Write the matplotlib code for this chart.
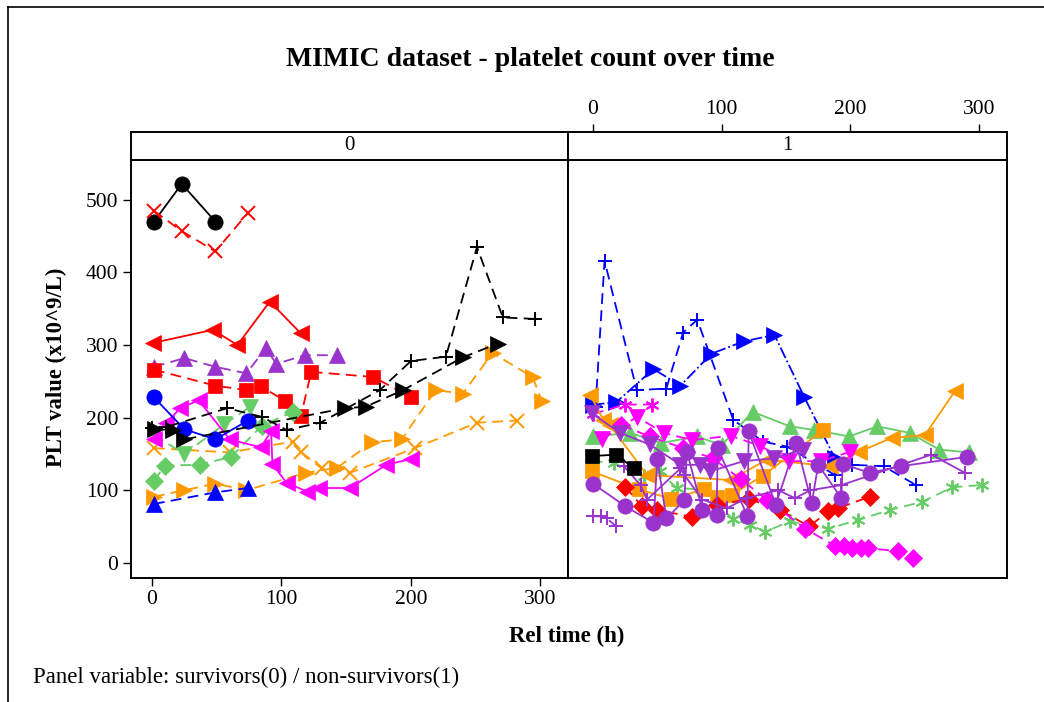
import matplotlib
matplotlib.use('Agg')
import matplotlib.pyplot as plt
from matplotlib.lines import Line2D

plt.rcParams['font.family'] = ['Liberation Serif', 'DejaVu Serif']

# ---- panel 0 : survivors ----
l_black_circle_t = [1.5, 23, 49]
l_black_circle_v = [470, 522, 470]
l_red_x_t = [1.5, 23, 49, 74]
l_red_x_v = [485, 457, 429, 482]
l_red_ltri_t = [1, 47, 66, 91, 115]
l_red_ltri_v = [303, 321, 300, 360, 316]
l_purple_tri_t = [1.5, 25, 49, 73, 88, 96, 118, 143]
l_purple_tri_v = [270, 282, 270, 261, 296, 274, 286, 286]
l_red_sq_t = [1.5, 49, 73, 84, 103, 115, 123, 171, 200]
l_red_sq_v = [266, 244, 238, 243, 223, 202, 263, 256, 228]
l_blue_circle_t = [1.5, 25, 49, 74]
l_blue_circle_v = [228, 184, 170, 196]
l_black_plus_t = [0, 11, 58, 85, 104, 130, 176, 200, 227, 251, 271, 296]
l_black_plus_v = [186, 187, 213, 201, 183, 193, 238, 278, 284, 435, 338, 336]
l_black_rtri_t = [2, 16, 25, 149, 165, 194, 240, 267]
l_black_rtri_v = [184, 183, 170, 213, 215, 238, 283, 302]
l_green_dtri_t = [1.5, 25, 56, 76]
l_green_dtri_v = [176, 150, 191, 215]
l_green_dia_t = [1.5, 10, 37, 61, 85, 109]
l_green_dia_v = [113, 134, 135, 146, 189, 208]
l_mag_ltri_t = [1.5, 11, 22, 36, 60, 84, 92, 93, 104, 120, 129, 153, 181, 200]
l_mag_ltri_v = [170, 193, 213, 224, 170, 159, 181, 136, 110, 98, 103, 103, 135, 143]
l_orange_x_t = [1.5, 60, 109, 115, 131, 153, 203, 251, 282]
l_orange_x_v = [158, 152, 167, 153, 130, 124, 158, 193, 196]
l_orange_rtri_t = [1.5, 25, 49, 73, 119, 143, 170, 193, 219, 240, 263, 294, 301]
l_orange_rtri_v = [91, 100, 109, 100, 124, 131, 166, 170, 238, 233, 289, 256, 223]
l_blue_tri_t = [1.5, 49, 74]
l_blue_tri_v = [81, 97, 103]

# ---- panel 1 : non-survivors ----
r_blue_plus_t = [2, 9, 34, 57, 70, 81, 109, 132, 151, 188, 201, 226, 251]
r_blue_plus_v = [215, 416, 238, 240, 317, 335, 197, 167, 160, 121, 135, 133, 107]
r_blue_rtri_t = [0, 18, 47, 68, 92, 117, 141, 164, 188]
r_blue_rtri_v = [218, 221, 267, 244, 288, 305, 314, 229, 144]
r_mag_ast_t = [0, 25, 46]
r_mag_ast_v = [205, 218, 218]
r_green_tri_t = [0, 29, 53, 81, 100, 124, 153, 172, 199, 221, 246, 269, 292]
r_green_tri_v = [174, 179, 165, 174, 162, 208, 188, 183, 174, 188, 179, 156, 152]
r_orange_ltri_t = [-2, 8, 13, 42, 107, 135, 184, 207, 232, 258, 281]
r_orange_ltri_v = [231, 197, 190, 121, 114, 142, 133, 153, 172, 176, 236]
r_orange_sq_t = [-1, 36, 61, 86, 96, 108, 132, 179]
r_orange_sq_v = [126, 101, 88, 101, 91, 94, 120, 183]
r_black_sq_t = [-1, 18, 32]
r_black_sq_v = [147, 149, 130]
r_red_dia_t = [25, 38, 50, 77, 96, 121, 145, 168, 183, 190, 215]
r_red_dia_v = [105, 78, 73, 63, 79, 88, 73, 50, 71, 75, 91]
r_mag_dia_t = [22, 44, 70, 93, 115, 135, 165, 188, 195, 201, 208, 214, 237, 249]
r_mag_dia_v = [190, 174, 158, 144, 115, 87, 47, 23, 23, 20, 20, 20, 16, 6]
r_mag_dtri_t = [7, 34, 55, 77, 107, 130, 152, 177, 200]
r_mag_dtri_v = [170, 201, 179, 169, 175, 161, 140, 140, 153]
r_purple_circle_t = [0, 25, 47, 50, 57, 71, 73, 85, 96, 97, 120, 121, 142, 158, 170, 175, 193, 194, 215, 239, 291]
r_purple_circle_v = [109, 78, 55, 143, 61, 86, 153, 73, 66, 158, 64, 181, 80, 165, 82, 135, 89, 136, 124, 133, 146]
r_purple_dtri_t = [-1, 21, 44, 68, 83, 91, 117, 141, 163]
r_purple_dtri_v = [206, 179, 163, 135, 135, 126, 140, 144, 156]
r_purple_plus1_t = [0, 6, 11, 18]
r_purple_plus1_v = [64, 64, 61, 50]
r_purple_plus2_t = [24, 37, 42, 68, 71, 85, 104, 119, 144, 157, 169, 193, 263, 289]
r_purple_plus2_v = [133, 107, 87, 130, 121, 87, 75, 89, 100, 89, 100, 107, 149, 124]
r_green_ast_t = [-1, 16, 40, 52, 65, 84, 109, 122, 134, 153, 183, 206, 231, 256, 279, 302]
r_green_ast_v = [140, 138, 119, 126, 103, 101, 60, 52, 43, 57, 47, 59, 73, 84, 104, 107]

y_ticks = [0, 100, 200, 300, 400, 500]
x_ticks = [0, 100, 200, 300]
panel_names = ['0', '1']

BLUE, RED, BLACK = '#0000FF', '#FF0000', '#000000'
PURPLE, GREEN, ORANGE, MAGENTA = '#9933CC', '#66CC66', '#FF9900', '#FF00FF'
AST = (6, 2, 0)

left_series = [
    (l_black_circle_t, l_black_circle_v, BLACK, 'o', '-'),
    (l_red_x_t, l_red_x_v, RED, 'x', '--'),
    (l_red_ltri_t, l_red_ltri_v, RED, '<', '-'),
    (l_purple_tri_t, l_purple_tri_v, PURPLE, '^', '--'),
    (l_red_sq_t, l_red_sq_v, RED, 's', '--'),
    (l_orange_x_t, l_orange_x_v, ORANGE, 'x', '--'),
    (l_orange_rtri_t, l_orange_rtri_v, ORANGE, '>', '--'),
    (l_green_dia_t, l_green_dia_v, GREEN, 'D', '--'),
    (l_green_dtri_t, l_green_dtri_v, GREEN, 'v', '--'),
    (l_blue_tri_t, l_blue_tri_v, BLUE, '^', '--'),
    (l_mag_ltri_t, l_mag_ltri_v, MAGENTA, '<', '-'),
    (l_blue_circle_t, l_blue_circle_v, BLUE, 'o', '-'),
    (l_black_plus_t, l_black_plus_v, BLACK, '+', '--'),
    (l_black_rtri_t, l_black_rtri_v, BLACK, '>', '--'),
]
right_series = [
    (r_blue_plus_t, r_blue_plus_v, BLUE, '+', '--'),
    (r_blue_rtri_t, r_blue_rtri_v, BLUE, '>', '-.'),
    (r_mag_ast_t, r_mag_ast_v, MAGENTA, AST, '--'),
    (r_green_tri_t, r_green_tri_v, GREEN, '^', '-'),
    (r_green_ast_t, r_green_ast_v, GREEN, AST, '--'),
    (r_orange_ltri_t, r_orange_ltri_v, ORANGE, '<', '-'),
    (r_orange_sq_t, r_orange_sq_v, ORANGE, 's', '-'),
    (r_red_dia_t, r_red_dia_v, RED, 'D', '--'),
    (r_mag_dia_t, r_mag_dia_v, MAGENTA, 'D', '--'),
    (r_mag_dtri_t, r_mag_dtri_v, MAGENTA, 'v', '--'),
    (r_purple_plus1_t, r_purple_plus1_v, PURPLE, '+', '--'),
    (r_purple_plus2_t, r_purple_plus2_v, PURPLE, '+', '-'),
    (r_purple_dtri_t, r_purple_dtri_v, PURPLE, 'v', '-'),
    (r_purple_circle_t, r_purple_circle_v, PURPLE, 'o', '-'),
    (r_black_sq_t, r_black_sq_v, BLACK, 's', '-'),
]


def draw(ax, series):
    for t, v, c, m, ls in series:
        thin = m in ('+', 'x', AST)
        if thin:
            ms = 10
        elif m == 'D':
            ms = 9
        elif m == 's':
            ms = 10
        else:
            ms = 11
        line, = ax.plot(t, v, color=c, marker=m, linestyle=ls, linewidth=1.3,
                        markersize=ms, markeredgewidth=1.4 if thin else 0.5)
        if ls == '--':
            line.set_dashes((6, 3.5))


def main():
    fig = plt.figure(figsize=(10.44, 7.02), dpi=100)
    W, H = 1044.0, 702.0

    def box(x0, y0, x1, y1):
        return [x0 / W, 1 - y1 / H, (x1 - x0) / W, (y1 - y0) / H]

    ax0 = fig.add_axes(box(131, 160, 568, 578))
    ax1 = fig.add_axes(box(568, 160, 1007, 578))
    h0 = fig.add_axes(box(131, 132, 568, 160))
    h1 = fig.add_axes(box(568, 132, 1007, 160))

    draw(ax0, left_series)
    draw(ax1, right_series)

    for ax in (ax0, ax1):
        ax.set_ylim(-21, 555)
        for s in ax.spines.values():
            s.set_linewidth(1.4)
    ax0.set_xlim(-16.2, 321.3)
    ax1.set_xlim(-19.4, 321.7)

    ax0.set_yticks(y_ticks)
    ax0.set_xticks(x_ticks)
    ax0.tick_params(direction='out', length=6, width=1, labelsize=15.5, pad=3)
    ax1.set_yticks([])
    ax1.set_xticks([])

    for h, name, ax in ((h0, panel_names[0], ax0), (h1, panel_names[1], ax1)):
        h.set_xlim(ax.get_xlim())
        h.set_ylim(0, 1)
        h.set_yticks([])
        h.set_xticks([])
        for s in h.spines.values():
            s.set_linewidth(1.4)
        h.text(0.5, 0.5, name, transform=h.transAxes, ha='center', va='center', fontsize=15)

    h1.xaxis.tick_top()
    h1.set_xticks(x_ticks)
    h1.tick_params(direction='out', length=6, width=1, labelsize=15.5, pad=3)

    fig.text(530 / W, 1 - 59 / H, 'MIMIC dataset - platelet count over time',
             ha='center', va='center', fontsize=20, fontweight='bold')
    fig.text(567 / W, 1 - 636 / H, 'Rel time (h)', ha='center', va='center',
             fontsize=16.5, fontweight='bold')
    fig.text(56 / W, 1 - 367 / H, 'PLT value (x10^9/L)', ha='center', va='center',
             rotation=90, fontsize=16.3, fontweight='bold')
    fig.text(33 / W, 1 - 677 / H, 'Panel variable: survivors(0) / non-survivors(1)',
             ha='left', va='center', fontsize=16.5)

    # outer frame
    fig.add_artist(Line2D([8 / W, 8 / W], [0, 1 - 7 / H], color='black', linewidth=1.2))
    fig.add_artist(Line2D([8 / W, 1], [1 - 7 / H, 1 - 7 / H], color='black', linewidth=1.2))

    fig.savefig('out.png', dpi=100)


if __name__ == '__main__':
    main()
